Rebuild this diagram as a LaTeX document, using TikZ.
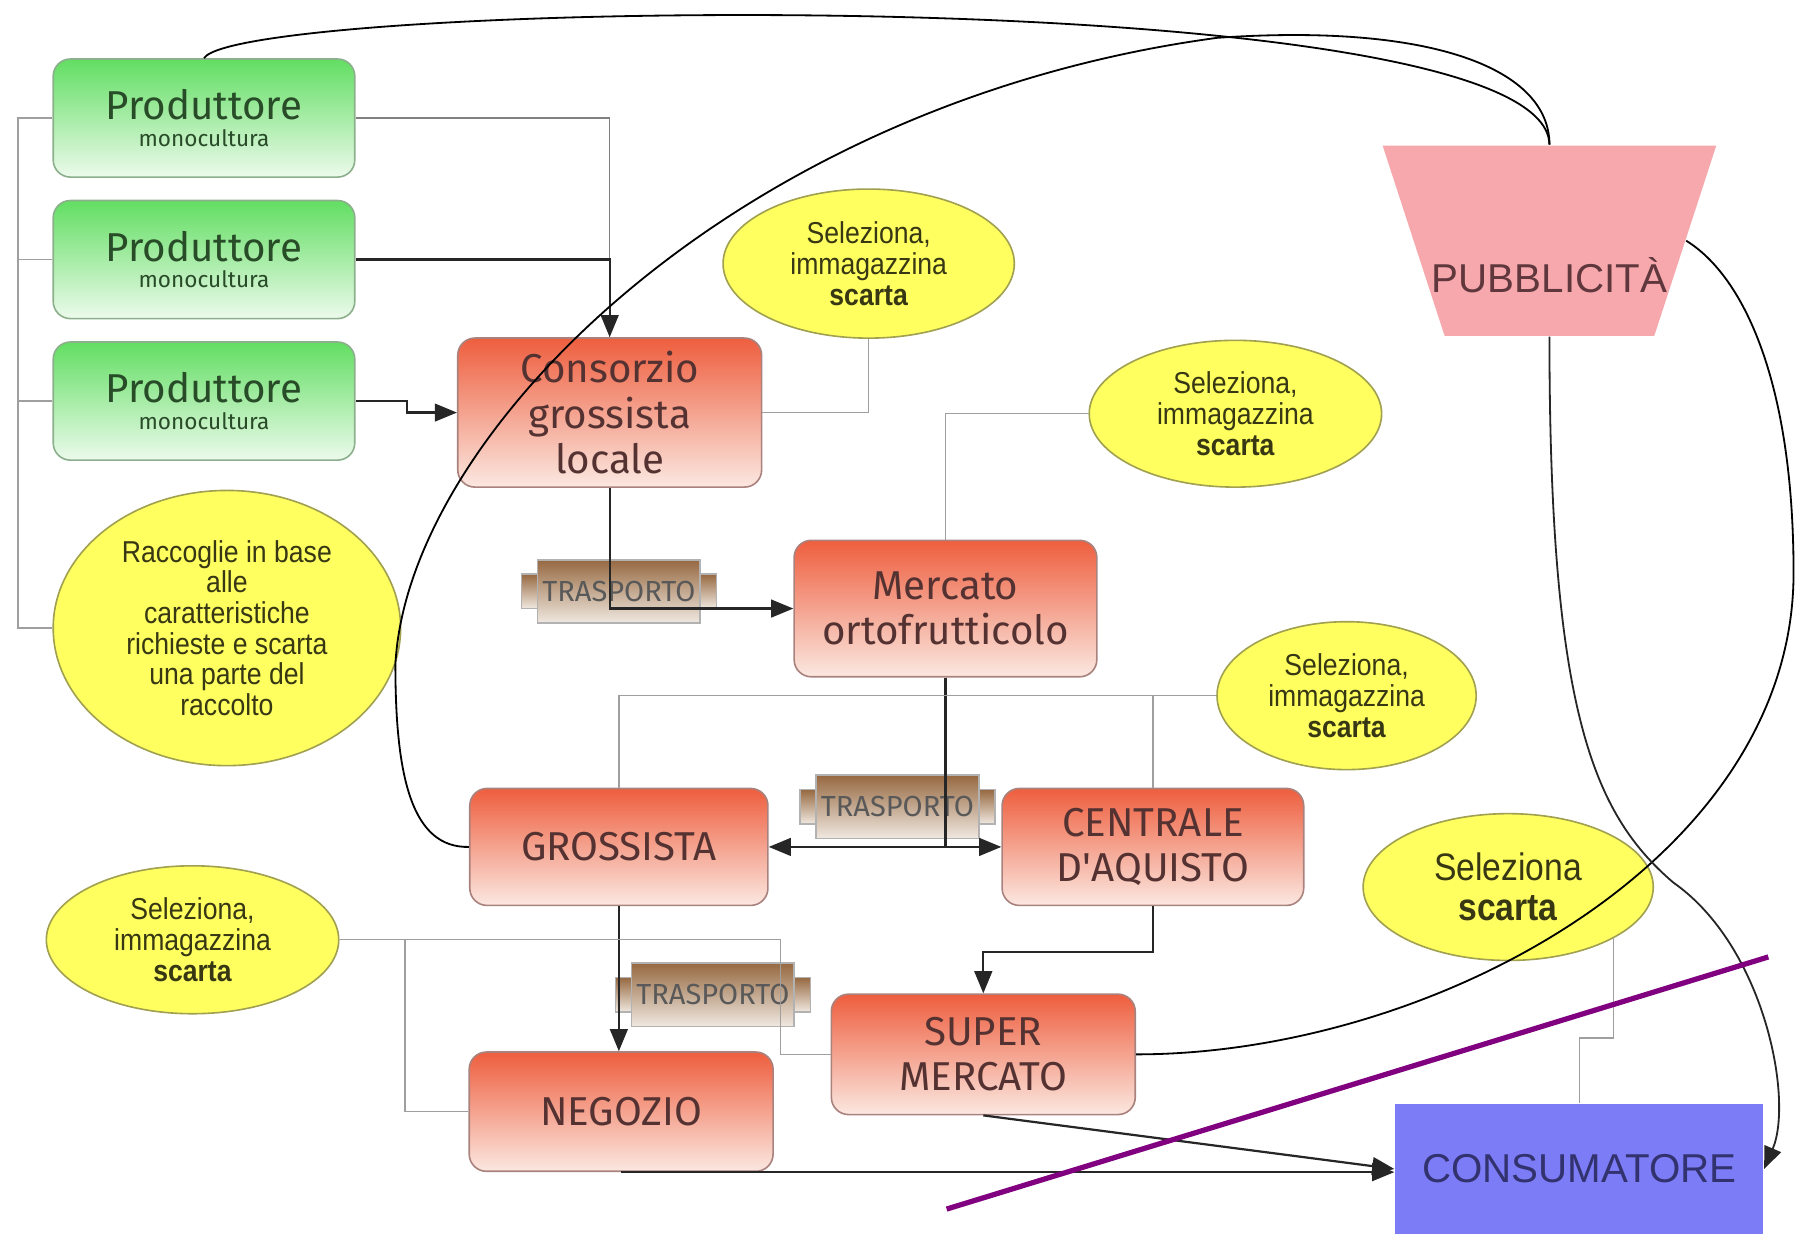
\documentclass[tikz,border=0pt]{standalone}
\usepackage{fontspec}
\setmainfont{Liberation Sans}
\newfontfamily\boxfont{Fira Sans}
\newfontfamily\notefont{Liberation Sans}[FakeStretch=0.88]
\definecolor{leafgreen}{RGB}{98,222,98}
\definecolor{leafpale}{RGB}{236,250,236}
\definecolor{leafline}{RGB}{140,175,140}
\definecolor{leafink}{RGB}{40,75,40}
\definecolor{brick}{RGB}{238,94,62}
\definecolor{brickpale}{RGB}{251,232,225}
\definecolor{brickline}{RGB}{170,130,125}
\definecolor{brickink}{RGB}{85,50,50}
\definecolor{lemon}{RGB}{255,255,96}
\definecolor{lemonline}{RGB}{160,160,80}
\definecolor{lemonink}{RGB}{55,55,20}
\definecolor{rose}{RGB}{246,168,173}
\definecolor{roseink}{RGB}{95,55,60}
\definecolor{lavender}{RGB}{124,124,246}
\definecolor{navyink}{RGB}{50,50,110}
\definecolor{bark}{RGB}{150,105,65}
\definecolor{barkpale}{RGB}{240,232,224}
\definecolor{plum}{RGB}{128,0,128}
\usetikzlibrary{arrows.meta,positioning,shapes.geometric}

\begin{document}
\begin{tikzpicture}[x=0.01cm,y=-0.01cm,
  prod/.style={rectangle,rounded corners=0.15cm,draw=leafline,top color=leafgreen,bottom color=leafpale,align=center,text=leafink,minimum width=2.63cm,minimum height=1.03cm,inner sep=1pt},
  block/.style={rectangle,rounded corners=0.15cm,draw=brickline,top color=brick,bottom color=brickpale,align=center,text=brickink,minimum width=2.64cm,minimum height=1.03cm,font=\boxfont\fontsize{10}{11.2}\selectfont},
  note/.style={ellipse,draw=lemonline,fill=lemon,align=center,text=lemonink,inner sep=1pt,font=\notefont\fontsize{7.5}{7.6}\selectfont},
  trbar/.style={rectangle,draw=gray!60,top color=bark,bottom color=barkpale,minimum width=1.70cm,minimum height=0.30cm},
  trbox/.style={rectangle,draw=gray!60,top color=bark,bottom color=barkpale,minimum width=1.42cm,minimum height=0.55cm,inner sep=0pt,text=black!65,font=\boxfont\fontsize{7.2}{8}\selectfont},
  arrow/.style={-{Triangle[length=5.5pt,width=4.4pt]},line width=0.55pt,draw=black!85},
  flow/.style={line width=0.55pt,draw=black!85},
  link/.style={line width=0.35pt,draw=gray!75},
  curve/.style={line width=0.45pt,draw=black}]

  \useasboundingbox (0,0) rectangle (1568,1081);

  \node[prod] (prodA) at (178,103) {{\boxfont\fontsize{10}{11}\selectfont Produttore}\\[-5.4pt]{\boxfont\fontsize{5.6}{6}\selectfont monocultura}};
  \node[prod,below=0.19cm of prodA] (prodB) {{\boxfont\fontsize{10}{11}\selectfont Produttore}\\[-5.4pt]{\boxfont\fontsize{5.6}{6}\selectfont monocultura}};
  \node[prod,below=0.19cm of prodB] (prodC) {{\boxfont\fontsize{10}{11}\selectfont Produttore}\\[-5.4pt]{\boxfont\fontsize{5.6}{6}\selectfont monocultura}};
  \node[note,minimum width=3.03cm,minimum height=2.40cm] (raccolta) at (198,548) {Raccoglie in base\\alle\\caratteristiche\\richieste e scarta\\una parte del\\raccolto};

  \node[block,minimum width=2.65cm,minimum height=1.20cm] (consorzio) at (532,360) {Consorzio\\grossista\\locale};
  \node[note,minimum width=2.54cm,minimum height=1.30cm] (selA) at (758,230) {Seleziona,\\immagazzina\\\textbf{scarta}};
  \node[block,minimum height=1.19cm] (mercato) at (825,531) {Mercato\\ortofrutticolo};
  \node[note,minimum width=2.55cm,minimum height=1.28cm] (selB) at (1078,361) {Seleziona,\\immagazzina\\\textbf{scarta}};
  \node[block,minimum width=2.60cm,minimum height=1.02cm] (grossista) at (540,739) {GROSSISTA};
  \node[block,minimum width=2.63cm,minimum height=1.02cm] (centrale) at (1006,739) {CENTRALE\\D\textquotesingle AQUISTO};
  \node[note,minimum width=2.26cm,minimum height=1.29cm] (selC) at (1175,607) {Seleziona,\\immagazzina\\\textbf{scarta}};
  \node[note,minimum width=2.55cm,minimum height=1.29cm] (selD) at (168,820) {Seleziona,\\immagazzina\\\textbf{scarta}};
  \node[block,minimum width=2.65cm,minimum height=1.04cm] (negozio) at (542,970) {NEGOZIO};
  \node[block,minimum width=2.65cm,minimum height=1.05cm] (super) at (858,920) {SUPER\\MERCATO};
  \node[rectangle,fill=lavender,minimum width=3.21cm,minimum height=1.14cm,text=navyink,font=\fontsize{10}{12}\selectfont] (consumatore) at (1378,1020) {CONSUMATORE};
  \node[note,minimum width=2.53cm,minimum height=1.28cm,font=\notefont\fontsize{9.5}{10}\selectfont] (selE) at (1316,774) {Seleziona\\\textbf{scarta}};
  \node[trapezium,trapezium angle=74,shape border rotate=180,trapezium stretches=true,fill=rose,minimum width=2.91cm,minimum height=1.66cm,inner sep=0pt] (pubblicita) at (1352,210) {\phantom{X}};
  \node[text=roseink,font=\fontsize{10}{12}\selectfont] (pubtxt) at (1352,240) {PUBBLICITÀ};

  \node[trbar] (trAbar) at (540,516) {};
  \node[trbox] (trA) at (540,516) {TRASPORTO};
  \node[trbar] (trBbar) at (783,704) {};
  \node[trbox] (trB) at (783,704) {TRASPORTO};
  \node[trbar] (trCbar) at (622,868) {};
  \node[trbox] (trC) at (622,868) {TRASPORTO};

  \draw[link] (prodA.west) -- ++(-30,0) |- (raccolta.west);
  \draw[link] (prodB.west) -- ++(-30,0);
  \draw[link] (prodC.west) -- ++(-30,0);
  \draw[link,draw=gray] (prodA.east) -| (consorzio.north);
  \draw[arrow] (prodB.east) -- (prodB.east -| consorzio.north) -- (consorzio.north);
  \draw[arrow] (prodC.east) -- ++(45,0) |- (consorzio.west);
  \draw[link] (selA.south) |- (consorzio.east);
  \draw[arrow] (consorzio.south) |- (mercato.west);
  \draw[link] (selB.west) -| (mercato.north);
  \draw[arrow] (mercato.south) |- (grossista.east);
  \draw[arrow] (mercato.south) |- (centrale.west);
  \draw[link] (selC.west) -| (grossista.north);
  \draw[link] (centrale.north) -- (centrale.north |- selC.west);
  \draw[arrow] (grossista.south) -- (grossista.south |- negozio.north);
  \draw[arrow] (centrale.south) -- ++(0,40) -| (super.north);
  \draw[link] (selD.east) -- ++(385,0) |- (super.west);
  \draw[link] (selD.east) ++(57,0) |- (negozio.west);
  \draw[link] (selE.-26) -- ++(0,87) -| (consumatore.north);
  \draw[arrow] (negozio.south) -- (negozio.south -| consumatore.west);
  \draw[arrow] (super.south) -- (consumatore.west);

  \draw[curve] (prodA.north) .. controls (210,0) and (1350,-20) .. (pubblicita.north);
  \draw[curve] (grossista.west) .. controls (360,740) and (345,680) .. (345,580)
    .. controls (355,380) and (640,90) .. (1062,33)
    .. controls (1250,20) and (1352,60) .. (pubblicita.north);
  \draw[curve] (super.east) .. controls (1250,920) and (1565,750) .. (1565,500)
    .. controls (1565,330) and (1520,240) .. (pubblicita.east);
  \draw[arrow,line width=0.45pt] (pubblicita.south) .. controls (1352,620) and (1390,710) .. (1460,770)
    .. controls (1540,826) and (1565,960) .. (consumatore.east);

  \draw[line width=1.3pt,plum] (826,1055) -- (1543,835);
\end{tikzpicture}
\end{document}
